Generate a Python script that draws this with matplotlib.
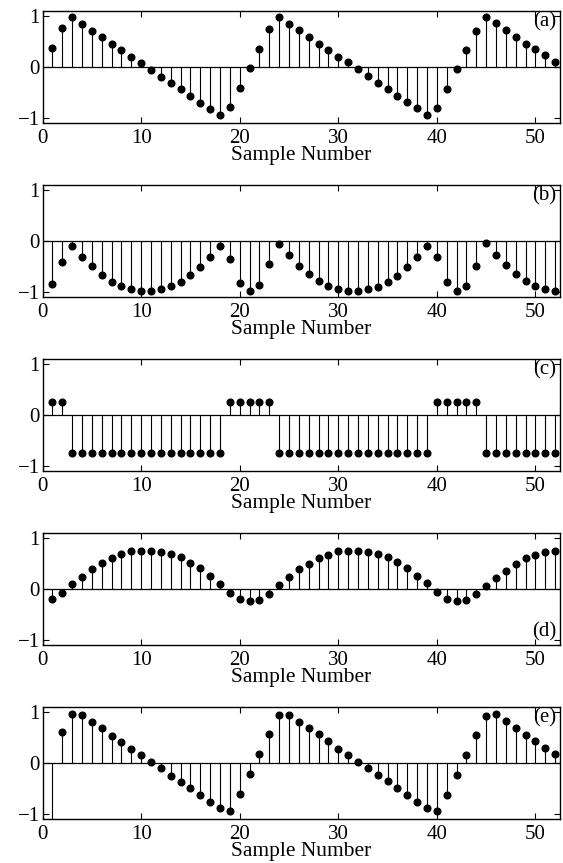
import matplotlib
matplotlib.use("Agg")
import matplotlib.pyplot as plt
import numpy as np

plt.rcParams['font.family'] = ['Liberation Serif', 'DejaVu Serif']

# numero de muestra
n = np.arange(1, 53)

# senal (a)
ya = [0.37, 0.77, 0.98, 0.84, 0.70, 0.58, 0.46, 0.34, 0.20, 0.07,
      -0.06, -0.20, -0.31, -0.43, -0.56, -0.70, -0.82, -0.95, -0.79, -0.41,
      -0.01, 0.36, 0.75, 0.98, 0.84, 0.73, 0.59, 0.46, 0.34, 0.20,
      0.09, -0.04, -0.18, -0.31, -0.43, -0.56, -0.69, -0.81, -0.95, -0.81,
      -0.44, -0.04, 0.33, 0.71, 0.99, 0.86, 0.73, 0.59, 0.46, 0.36,
      0.23, 0.09]

# senal (b)
yb = [-0.84, -0.41, -0.09, -0.31, -0.50, -0.67, -0.80, -0.89, -0.94, -0.99,
      -0.99, -0.94, -0.89, -0.80, -0.67, -0.51, -0.32, -0.09, -0.36, -0.83,
      -0.99, -0.86, -0.45, -0.06, -0.28, -0.50, -0.64, -0.78, -0.89, -0.94,
      -0.99, -0.99, -0.94, -0.90, -0.80, -0.69, -0.51, -0.32, -0.10, -0.32,
      -0.80, -0.99, -0.89, -0.50, -0.04, -0.28, -0.48, -0.64, -0.78, -0.89,
      -0.94, -0.99]

# senal (c)
yc = [0.25, 0.25] + [-0.75] * 16 + [0.25] * 5 + [-0.75] * 16 + [0.25] * 5 + [-0.75] * 8

# senal (d)
yd = [-0.19, -0.08, 0.09, 0.24, 0.39, 0.52, 0.60, 0.68, 0.74, 0.75,
      0.75, 0.73, 0.68, 0.62, 0.52, 0.41, 0.26, 0.10, -0.08, -0.19,
      -0.23, -0.21, -0.10, 0.07, 0.24, 0.39, 0.50, 0.60, 0.66, 0.74,
      0.75, 0.75, 0.73, 0.68, 0.62, 0.54, 0.41, 0.26, 0.12, -0.06,
      -0.19, -0.23, -0.21, -0.10, 0.05, 0.21, 0.36, 0.50, 0.60, 0.66,
      0.73, 0.75]

# senal (e)
ye = [-1.40, 0.60, 0.97, 0.95, 0.81, 0.68, 0.54, 0.41, 0.28, 0.16,
      0.02, -0.10, -0.25, -0.38, -0.50, -0.63, -0.76, -0.89, -0.95, -0.61,
      -0.21, 0.17, 0.57, 0.95, 0.95, 0.81, 0.68, 0.56, 0.43, 0.28,
      0.15, 0.02, -0.10, -0.23, -0.36, -0.49, -0.63, -0.76, -0.89, -0.95,
      -0.63, -0.23, 0.15, 0.55, 0.92, 0.96, 0.83, 0.68, 0.55, 0.43,
      0.30, 0.17]

senales = [ya, yb, yc, yd, ye]
etiquetas = ['(a)', '(b)', '(c)', '(d)', '(e)']

fig = plt.figure(figsize=(5.63, 8.63), dpi=100)
W, H = 563.0, 863.0
tops = [11, 185, 359, 533, 707]
alto = 112
izq, der = 42.5, 560

for i, y in enumerate(senales):
    ax = fig.add_axes([izq / W, 1 - (tops[i] + alto) / H, (der - izq) / W, alto / H])
    ml, sl, bl = ax.stem(n, y, linefmt='k-', markerfmt='ko', basefmt=' ')
    plt.setp(sl, linewidth=0.8)
    plt.setp(ml, markersize=4.8)
    ax.axhline(0, color='k', linewidth=0.9)
    ax.set_xlim(0, 52.5)
    ax.set_ylim(-1.1, 1.1)
    ax.set_xticks([0, 10, 20, 30, 40, 50])
    ax.set_yticks([-1, 0, 1])
    ax.set_yticklabels(['\u22121', '0', '1'])
    ax.tick_params(direction='in', top=True, right=True, labelsize=15, length=4)
    ax.tick_params(axis='x', pad=4)
    ax.tick_params(axis='y', pad=2)
    for s in ax.spines.values():
        s.set_linewidth(1.0)
    ax.set_xlabel('Sample Number', fontsize=15.5, labelpad=-1)
    if etiquetas[i] == '(d)':
        ax.text(0.993, 0.03, etiquetas[i], transform=ax.transAxes, ha='right', va='bottom', fontsize=15)
    else:
        ax.text(0.993, 0.99, etiquetas[i], transform=ax.transAxes, ha='right', va='top', fontsize=15)

fig.savefig('out.png', dpi=100)
